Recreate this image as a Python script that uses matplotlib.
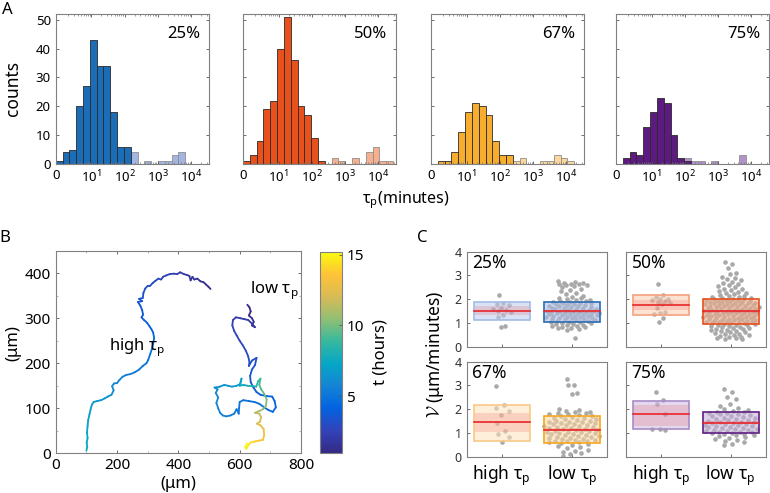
import numpy as np
import matplotlib
matplotlib.use('Agg')
import matplotlib.pyplot as plt
import matplotlib.cm as cm
from matplotlib.collections import LineCollection
from matplotlib.colors import LinearSegmentedColormap, Normalize
from matplotlib.patches import Rectangle

plt.rcParams['font.family'] = ['Noto Sans', 'DejaVu Sans']

# ---------------- data ----------------
pct_labels = ['25%', '50%', '67%', '75%']

# panel A: counts per log bin (dark = main population, light = long tau_p tail)
hist_dark = [
    [1, 4, 5, 20, 27, 43, 34, 34, 18, 6, 6],
    [1, 3, 8, 19, 22, 40, 51, 36, 20, 17, 9, 1],
    [0, 1, 1, 4, 11, 18, 21, 20, 17, 8, 3, 3],
    [0, 2, 4, 3, 13, 18, 23, 21, 10, 2, 1],
]
hist_light = [
    [0, 0, 0, 0, 0, 0, 0, 0, 0, 0, 0, 4, 0, 1, 0, 1, 1, 3, 4],
    [0, 0, 0, 0, 0, 0, 0, 0, 0, 0, 0, 0, 0, 2, 1, 0, 2, 0, 4, 6, 1, 1],
    [0, 0, 0, 0, 0, 0, 0, 0, 0, 0, 0, 0, 1, 2, 0, 0, 1, 1, 3, 2, 1],
    [0, 0, 0, 0, 0, 0, 0, 0, 0, 0, 2, 1, 1, 0, 1, 0, 0, 0, 3],
]
xtick_labels = ['0', r'$\mathregular{10^1}$', r'$\mathregular{10^2}$',
                r'$\mathregular{10^3}$', r'$\mathregular{10^4}$']

dark_cols = ['#1c6db8', '#e8501c', '#f7ae2e', '#5d1a80']
light_cols = ['#a4b5e2', '#f6b08f', '#fcd79d', '#b392c9']

# panel B: two cell tracks (x um, y um, t hours)
high_x = [505, 498, 490, 482, 472, 462, 452, 446, 440, 436, 428, 418, 406, 396, 385, 372, 360, 350,
          344, 335, 325, 316, 308, 300, 292, 286, 284, 272, 282, 268, 276, 282, 285, 280, 288, 298,
          306, 312, 318, 321, 318, 314, 308, 302, 296, 284, 272, 258, 244, 230, 218, 208, 200, 190,
          184, 189, 182, 170, 160, 148, 135, 124, 118, 114, 110, 106, 104, 102, 104, 101, 103, 100]
high_y = [365, 370, 375, 380, 382, 388, 386, 392, 384, 394, 396, 398, 402, 398, 399, 398, 395, 392,
          386, 388, 383, 378, 372, 372, 366, 356, 345, 343, 338, 336, 328, 318, 308, 302, 296, 290,
          282, 276, 268, 256, 244, 232, 220, 208, 200, 194, 186, 180, 176, 174, 170, 163, 156, 155,
          149, 140, 130, 126, 122, 118, 116, 114, 108, 98, 86, 74, 60, 46, 34, 24, 14, 6]
high_t = [1.0, 1.1, 1.2, 1.3, 1.4, 1.5, 1.6, 1.7, 1.75, 1.8, 1.9, 2.0, 2.1, 2.2, 2.3, 2.4, 2.5, 2.6,
          2.7, 2.8, 2.9, 3.0, 3.1, 3.15, 3.2, 3.3, 3.4, 3.45, 3.5, 3.55, 3.6, 3.7, 3.8, 3.85, 3.9, 4.0,
          4.1, 4.2, 4.3, 4.4, 4.5, 4.6, 4.7, 4.8, 4.9, 5.0, 5.1, 5.2, 5.3, 5.4, 5.5, 5.6, 5.7, 5.8,
          5.9, 6.0, 6.1, 6.2, 6.3, 6.4, 6.5, 6.6, 6.7, 6.8, 6.9, 7.0, 7.1, 7.2, 7.3, 7.4, 7.5, 7.6]

low_x = [625, 632, 636, 630, 640, 646, 640, 650, 640, 628, 615, 602, 588, 578, 576, 582, 590, 600,
         610, 620, 628, 632, 630, 640, 655, 650, 640, 634, 636, 645, 655, 668, 688, 706, 714, 718,
         708, 694, 680, 664, 648, 630, 612, 600, 598, 597, 590, 582, 570, 556, 545, 536, 530, 524,
         530, 522, 528, 518, 535, 550, 562, 575, 590, 602, 606, 600, 612, 626, 640, 654, 660, 668,
         664, 670, 680, 688, 686, 676, 664, 650, 664, 670, 666, 656, 668, 678, 680, 676, 662, 648,
         636, 628, 622, 618, 624]
low_y = [330, 324, 315, 306, 300, 292, 284, 280, 288, 296, 298, 300, 302, 296, 284, 272, 262, 250,
         240, 228, 215, 202, 194, 206, 212, 196, 186, 172, 158, 146, 136, 130, 127, 126, 116, 102,
         92, 96, 102, 110, 114, 116, 118, 114, 100, 88, 98, 88, 84, 82, 84, 90, 100, 112,
         124, 134, 142, 146, 148, 152, 150, 148, 150, 154, 166, 150, 152, 150, 150, 148, 160, 166,
         152, 142, 132, 120, 106, 98, 94, 90, 88, 80, 70, 66, 62, 54, 40, 30, 28, 26,
         24, 18, 10, 14, 22]
low_t = [1.0, 1.1, 1.2, 1.3, 1.4, 1.5, 1.6, 1.7, 1.8, 1.9, 2.0, 2.1, 2.2, 2.3, 2.4, 2.5, 2.6, 2.7,
         2.8, 2.9, 3.0, 3.1, 3.15, 3.2, 3.25, 3.3, 3.4, 3.5, 3.6, 3.7, 3.8, 3.9, 4.0, 4.1, 4.2, 4.3,
         4.35, 4.4, 4.5, 4.6, 4.7, 4.8, 4.85, 4.9, 5.0, 5.1, 5.15, 5.2, 5.3, 5.4, 5.5, 5.6, 5.7, 5.8,
         5.9, 6.0, 6.1, 6.15, 6.2, 6.3, 6.4, 6.5, 6.7, 6.9, 7.1, 7.3, 7.5, 7.8, 8.1, 8.4, 8.7, 8.9,
         9.1, 9.4, 9.7, 10.0, 10.3, 10.6, 10.9, 11.2, 11.5, 11.8, 12.1, 12.3, 12.5, 12.8, 13.1, 13.4,
         13.7, 14.0, 14.3, 14.6, 14.8, 15.0, 15.1]

# panel C: speeds (um/min) for high and low tau_p cells
hi25 = [2.18, 1.85, 1.8, 1.75, 1.63, 1.6, 1.55, 1.52, 1.45, 1.35, 1.26, 0.86, 0.84]
lo25 = [2.77, 2.72, 2.7, 2.68, 2.66, 2.64, 2.62, 2.6, 2.58, 2.55, 2.5, 2.45, 2.4, 2.35, 2.28, 2.22,
        2.15, 2.1, 2.06, 2.03, 2.0, 1.98, 1.96, 1.94, 1.92, 1.9, 1.88, 1.86, 1.85, 1.83, 1.8, 1.78,
        1.77, 1.75, 1.73, 1.72, 1.7, 1.68, 1.66, 1.65, 1.63, 1.62, 1.6, 1.58, 1.57, 1.55, 1.54, 1.52,
        1.5, 1.5, 1.49, 1.48, 1.46, 1.45, 1.44, 1.42, 1.41, 1.4, 1.38, 1.37, 1.36, 1.35, 1.33, 1.32,
        1.3, 1.3, 1.28, 1.27, 1.25, 1.24, 1.22, 1.2, 1.2, 1.18, 1.16, 1.15, 1.13, 1.12, 1.1, 1.08,
        1.06, 1.05, 1.03, 1.0, 0.98, 0.96, 0.94, 0.92, 0.9, 0.88, 0.86, 0.84, 0.82, 0.8, 0.78, 0.76,
        0.72, 0.35]
hi50 = [2.62, 2.18, 2.1, 2.02, 2.0, 1.96, 1.92, 1.88, 1.82, 1.78, 1.62, 1.45, 1.42, 1.38, 1.2, 1.02]
lo50 = [3.57, 3.5, 3.32, 3.1, 3.05, 2.95, 2.9, 2.85, 2.8, 2.72, 2.68, 2.62, 2.58, 2.55, 2.5, 2.45,
        2.42, 2.38, 2.35, 2.3, 2.28, 2.25, 2.2, 2.18, 2.15, 2.12, 2.1, 2.08, 2.05, 2.03, 2.02, 2.0,
        1.99, 1.98, 1.96, 1.95, 1.94, 1.92, 1.91, 1.9, 1.88, 1.87, 1.86, 1.84, 1.83, 1.82, 1.8, 1.79,
        1.78, 1.76, 1.75, 1.74, 1.72, 1.71, 1.7, 1.68, 1.67, 1.66, 1.64, 1.63, 1.62, 1.6, 1.59, 1.58,
        1.56, 1.55, 1.54, 1.52, 1.51, 1.5, 1.49, 1.48, 1.46, 1.45, 1.44, 1.42, 1.41, 1.4, 1.38, 1.37,
        1.36, 1.34, 1.33, 1.32, 1.3, 1.29, 1.28, 1.26, 1.25, 1.24, 1.22, 1.21, 1.2, 1.18, 1.17, 1.16,
        1.14, 1.13, 1.12, 1.1, 1.09, 1.08, 1.06, 1.05, 1.04, 1.02, 1.01, 1.0, 0.98, 0.96, 0.95, 0.93,
        0.92, 0.9, 0.88, 0.86, 0.85, 0.83, 0.8, 0.78, 0.76, 0.74, 0.72, 0.7, 0.68, 0.65, 0.62, 0.6,
        0.58, 0.55, 0.52, 0.5, 0.48, 0.45, 0.42, 0.4, 0.38, 0.35, 0.33, 0.31]
hi67 = [2.96, 2.17, 2.05, 1.94, 1.74, 1.43, 1.08, 0.95, 0.85, 0.63]
lo67 = [3.26, 3.03, 3.0, 2.7, 2.65, 2.0, 1.96, 1.93, 1.9, 1.88, 1.85, 1.82, 1.8, 1.78, 1.75, 1.72,
        1.7, 1.68, 1.65, 1.62, 1.6, 1.58, 1.55, 1.52, 1.5, 1.48, 1.46, 1.44, 1.42, 1.4, 1.38, 1.36,
        1.34, 1.32, 1.3, 1.28, 1.26, 1.24, 1.22, 1.2, 1.18, 1.16, 1.14, 1.12, 1.1, 1.08, 1.06, 1.04,
        1.02, 1.0, 0.98, 0.96, 0.94, 0.92, 0.9, 0.88, 0.86, 0.84, 0.82, 0.8, 0.78, 0.76, 0.74, 0.72,
        0.7, 0.68, 0.66, 0.64, 0.62, 0.6, 0.56, 0.52, 0.48, 0.44, 0.4, 0.36, 0.3, 0.25, 0.2, 0.15,
        0.1, 0.04]
hi75 = [2.72, 2.38, 2.2, 1.8, 1.18, 1.15, 1.12]
lo75 = [2.85, 2.72, 2.5, 2.45, 2.2, 2.12, 2.05, 2.0, 1.96, 1.93, 1.9, 1.88, 1.85, 1.82, 1.8, 1.78,
        1.75, 1.72, 1.7, 1.68, 1.65, 1.62, 1.6, 1.58, 1.55, 1.53, 1.5, 1.48, 1.46, 1.44, 1.42, 1.4,
        1.38, 1.36, 1.34, 1.32, 1.3, 1.28, 1.26, 1.24, 1.22, 1.2, 1.18, 1.16, 1.14, 1.12, 1.1, 1.08,
        1.06, 1.04, 1.02, 1.0, 0.98, 0.96, 0.94, 0.92, 0.9, 0.86, 0.82, 0.78, 0.74, 0.7, 0.65, 0.6,
        0.55, 0.49]
speeds_hi = [hi25, hi50, hi67, hi75]
speeds_lo = [lo25, lo50, lo67, lo75]

mean_hi = [1.52, 1.76, 1.46, 1.78]
mean_lo = [1.49, 1.49, 1.14, 1.43]
outer_hi = [(1.12, 1.90), (1.33, 2.16), (0.67, 2.19), (1.15, 2.36)]
outer_lo = [(1.05, 1.90), (0.95, 2.01), (0.57, 1.71), (0.99, 1.88)]
inner_hi = [(1.32, 1.72), (1.55, 1.97), (1.04, 1.86), (1.29, 2.19)]
inner_lo = [(1.44, 1.54), (1.43, 1.56), (1.07, 1.22), (1.36, 1.50)]
cat_labels = ['high τ$_\\mathregular{p}$', 'low τ$_\\mathregular{p}$']

W, H = 770, 493
fig = plt.figure(figsize=(W / 100, H / 100), dpi=100)


def px_axes(l, t, r, b):
    return fig.add_axes([l / W, 1 - b / H, (r - l) / W, (b - t) / H])


def style_spines(ax, col='#808080', lw=0.8):
    for s in ax.spines.values():
        s.set_color(col)
        s.set_linewidth(lw)


# ---------------- panel A ----------------
bin0 = -0.07
binw = 0.205
lefts = [55.7, 243, 431, 616]
minor = [n + np.log10(k) for n in range(0, 5) for k in range(2, 10)]
minor = [m for m in minor if m < 4.53]
for i in range(4):
    ax = px_axes(lefts[i], 14, lefts[i] + 153, 164)
    lt = np.array(hist_light[i])
    dk = np.array(hist_dark[i])
    e_lt = bin0 + binw * np.arange(len(lt))
    e_dk = bin0 + binw * np.arange(len(dk))
    m = lt > 0
    ax.bar(e_lt[m], lt[m], width=binw, align='edge', color=light_cols[i],
           edgecolor='#8f8f8f', linewidth=0.6)
    m = dk > 0
    ax.bar(e_dk[m], dk[m], width=binw, align='edge', color=dark_cols[i],
           edgecolor='#2a2a2a', linewidth=0.6)
    ax.set_xlim(bin0, 4.53)
    ax.set_ylim(0, 52)
    ax.set_xticks([bin0, 1, 2, 3, 4])
    ax.set_xticklabels(xtick_labels)
    ax.set_xticks(minor, minor=True)
    ax.set_yticks(range(0, 51, 10))
    if i > 0:
        ax.set_yticklabels([])
    ax.tick_params(direction='in', top=True, right=True, length=2.5, width=0.6,
                   color='#555555', labelsize=9.5)
    ax.tick_params(which='minor', direction='in', top=True, bottom=True, length=1.5,
                   width=0.5, color='#777777')
    style_spines(ax)
    ax.text(0.835, 0.87, pct_labels[i], transform=ax.transAxes, ha='center',
            va='center', fontsize=12)

fig.text(13 / W, 1 - 89 / H, 'counts', rotation=90, ha='center', va='center', fontsize=12.5)
fig.text(406 / W, 1 - 200 / H, 'τ$_\\mathregular{p}$(minutes)', ha='center', va='center',
         fontsize=11.5)

# ---------------- panel B ----------------
parula = LinearSegmentedColormap.from_list('parula', [
    (0.2081, 0.1663, 0.5292), (0.1959, 0.2645, 0.7279), (0.0117, 0.3875, 0.8820),
    (0.0793, 0.5200, 0.8312), (0.0228, 0.6535, 0.7768), (0.2178, 0.7250, 0.6193),
    (0.5709, 0.7485, 0.4494), (0.8507, 0.7299, 0.3360), (0.9990, 0.7653, 0.2164),
    (0.9763, 0.9831, 0.0538)])
norm = Normalize(1, 15.2)

axB = px_axes(55.7, 250.7, 301, 453.3)
for xs, ys, ts in [(high_x, high_y, high_t), (low_x, low_y, low_t)]:
    pts = np.column_stack([xs, ys])
    segs = np.stack([pts[:-1], pts[1:]], axis=1)
    tt = np.array(ts)
    lc = LineCollection(segs, cmap=parula, norm=norm, linewidth=1.3, capstyle='round')
    lc.set_array(0.5 * (tt[:-1] + tt[1:]))
    axB.add_collection(lc)
axB.set_xlim(0, 800)
axB.set_ylim(0, 450)
axB.set_xticks(range(0, 801, 200))
axB.set_yticks(range(0, 401, 100))
axB.set_xticks(range(0, 801, 100), minor=True)
axB.set_yticks(range(0, 451, 50), minor=True)
axB.tick_params(direction='in', top=True, right=True, length=2.5, width=0.6,
                color='#555555', labelsize=11)
axB.tick_params(which='minor', direction='in', top=True, right=True, length=1.5,
                width=0.5, color='#999999')
style_spines(axB)
axB.text(712, 360, 'low τ$_\\mathregular{p}$', ha='center', va='center', fontsize=12)
axB.text(265, 233, 'high τ$_\\mathregular{p}$', ha='center', va='center', fontsize=12)
fig.text(13 / W, 1 - 343 / H, '(μm)', rotation=90, ha='center', va='center', fontsize=12)
fig.text(178 / W, 1 - 484 / H, '(μm)', ha='center', va='center', fontsize=12)

cax = px_axes(320, 251.7, 341.7, 452.7)
cb = fig.colorbar(cm.ScalarMappable(norm=norm, cmap=parula), cax=cax)
cb.set_ticks([5, 10, 15])
cb.ax.tick_params(labelsize=11, direction='in', length=2.5, width=0.6, color='#555555')
cb.outline.set_edgecolor('#808080')
cb.outline.set_linewidth(0.8)
cb.set_label('t (hours)', fontsize=12, labelpad=6)

# ---------------- panel C ----------------
c_pos = [(466.7, 251.7, 607, 346.7), (626, 251.7, 765.7, 346.7),
         (466.7, 361.7, 607, 456.7), (626, 361.7, 765.7, 456.7)]
hi_face = ['#bccbee', '#fbcbb0', '#fde3bb', '#cdb8e0']
hi_edge = ['#a3bbe6', '#f4a27c', '#f9c985', '#a88cc7']
lo_face = ['#a9bcea', '#f4a985', '#fdd69e', '#c4aedc']
lo_edge = ['#2a6bb4', '#e8501c', '#f6a81e', '#5e1f85']
red = '#e8262a'

for i in range(4):
    ax = px_axes(*c_pos[i])
    for k, (vals, mu, out, inn, fc, ec, spread) in enumerate([
            (speeds_hi[i], mean_hi[i], outer_hi[i], inner_hi[i], hi_face[i], hi_edge[i], 0.3),
            (speeds_lo[i], mean_lo[i], outer_lo[i], inner_lo[i], lo_face[i], lo_edge[i], 0.82)]):
        xc = k + 1
        v = np.array(vals)
        n = len(v)
        # swarm-like width: wider where the values are dense
        dens = np.array([np.sum(np.abs(v - y) < 0.2) for y in v], dtype=float)
        width = spread * (dens / dens.max()) ** 0.6
        off = ((np.arange(n) * 0.6180339887) % 1 - 0.5) * width
        ax.scatter(xc + off, v, s=11, color='#a9a9a9', linewidths=0, zorder=2)
        ax.add_patch(Rectangle((xc - 0.4, out[0]), 0.8, out[1] - out[0], facecolor=fc,
                               alpha=0.55, edgecolor='none', zorder=3))
        ax.add_patch(Rectangle((xc - 0.4, inn[0]), 0.8, inn[1] - inn[0], facecolor=red,
                               alpha=0.15, edgecolor='none', zorder=4))
        ax.add_patch(Rectangle((xc - 0.4, out[0]), 0.8, out[1] - out[0], facecolor='none',
                               edgecolor=ec, linewidth=1.2, zorder=5))
        ax.plot([xc - 0.4, xc + 0.4], [mu, mu], color=red, lw=1.2, zorder=6)
    ax.set_xlim(0.5, 2.5)
    ax.set_ylim(0, 4)
    ax.set_xticks([1, 2])
    ax.set_yticks(range(5))
    ax.tick_params(direction='in', length=2.5, width=0.6, color='#555555', labelsize=9,
                   labelcolor='#333333')
    ax.tick_params(axis='x', labelcolor='black', labelsize=12.5, pad=5)
    if i >= 2:
        ax.set_xticklabels(cat_labels)
    else:
        ax.set_xticklabels([])
    if i % 2 == 1:
        ax.set_yticklabels([])
    style_spines(ax)
    ax.text(0.04, 0.885, pct_labels[i], transform=ax.transAxes, ha='left', va='center',
            fontsize=12.5)

fig.text(435 / W, 1 - 354 / H, r'$\mathcal{V}$ (μm/minutes)', rotation=90, ha='center',
         va='center', fontsize=12.5, math_fontfamily='cm')

# panel letters
fig.text(7 / W, 1 - 10 / H, 'A', ha='center', va='center', fontsize=12)
fig.text(5 / W, 1 - 238 / H, 'B', ha='center', va='center', fontsize=12)
fig.text(422 / W, 1 - 238 / H, 'C', ha='center', va='center', fontsize=12)

fig.savefig('out.png', dpi=100)
